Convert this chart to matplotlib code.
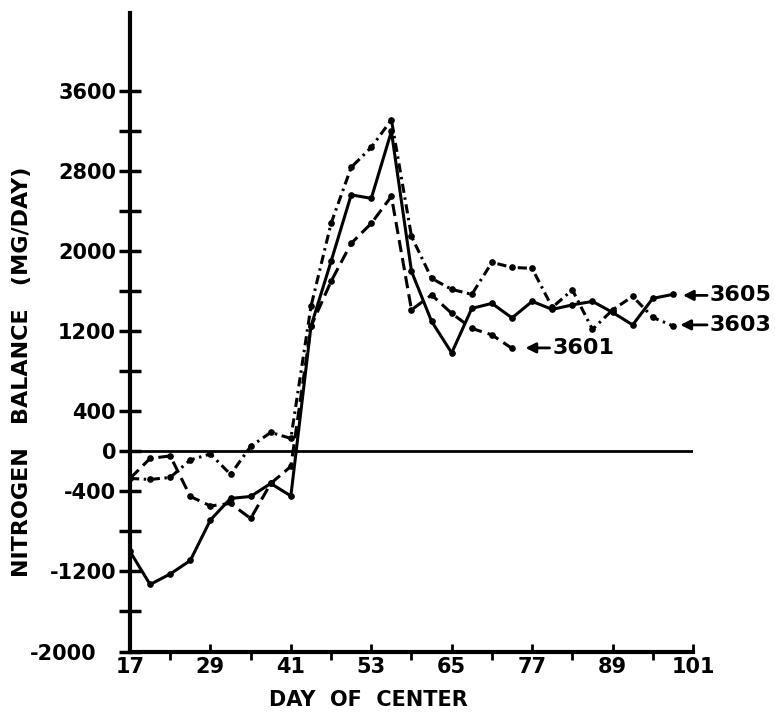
import matplotlib
matplotlib.use("Agg")
import matplotlib.pyplot as plt
import matplotlib.transforms as mtransforms

days = [17, 20, 23, 26, 29, 32, 35, 38, 41, 44, 47, 50, 53, 56, 59, 62, 65, 68,
        71, 74, 77, 80, 83, 86, 89, 92, 95, 98]

s3605 = [-1000, -1330, -1225, -1090, -685, -470, -450, -320, -445, 1250, 1900,
         2565, 2530, 3200, 1800, 1300, 985, 1430, 1480, 1335, 1500, 1420, 1465,
         1500, 1390, 1265, 1530, 1570]

s3603 = [-270, -280, -260, -85, -25, -230, 50, 190, 130, 1450, 2280, 2840, 3040,
         3315, 2150, 1730, 1620, 1570, 1890, 1840, 1830, 1440, 1615, 1220, 1415,
         1550, 1340, 1255]

days_3601 = days[:20]
s3601 = [-270, -70, -45, -450, -545, -520, -670, -320, -150, 1250, 1700, 2080,
         2280, 2550, 1415, 1565, 1380, 1230, 1165, 1030]

x_major = [17, 29, 41, 53, 65, 77, 89, 101]
x_minor = [23, 35, 47, 59, 71, 83, 95]
y_major = [-2000, -1200, -400, 0, 400, 1200, 2000, 2800, 3600]
y_minor = [-1600, -800, 800, 1600, 2400, 3200]

fig = plt.figure(figsize=(7.75, 7.13), dpi=100)
ax = fig.add_axes([130/775, 1-651.5/713, (693-130)/775, (651.5-13.3)/713])

ax.set_xlim(17, 101)
ax.set_ylim(-2000, 4380)

lw = 2.2
ax.plot(days, s3605, color='black', lw=lw, marker='o', ms=3.8, solid_joinstyle='round')
ax.plot(days, s3603, color='black', lw=lw, marker='o', ms=3.8,
        linestyle=(0, (3, 1.5, 0.8, 1.5)))
ax.plot(days_3601, s3601, color='black', lw=lw, marker='o', ms=3.8,
        linestyle=(0, (4, 2)))

ax.plot([17, 101], [0, 0], color='black', lw=2)

for s in ['top', 'right']:
    ax.spines[s].set_visible(False)
for s in ['left', 'bottom']:
    ax.spines[s].set_linewidth(3)

font = dict(family='DejaVu Sans', weight='bold')

ax.set_xticks(x_major)
ax.set_xticklabels([str(v) for v in x_major], fontsize=15, **font)
ax.set_xticks(x_minor, minor=True)
ax.set_yticks(y_major)
ax.set_yticklabels([str(v) for v in y_major], fontsize=15, **font)
ax.set_yticks(y_minor, minor=True)
ax.tick_params(axis='x', which='major', direction='in', length=6, width=2, pad=4)
ax.tick_params(axis='x', which='minor', direction='out', length=6, width=2)
ax.tick_params(axis='y', which='both', direction='inout', length=16, width=2.5, pad=2)

# the bottom label sits a little further from the axis in the original
lbl = ax.get_yticklabels()[0]
lbl.set_transform(lbl.get_transform() +
                  mtransforms.ScaledTranslation(-20/100, 0, fig.dpi_scale_trans))

fig.text(368/775, 1-700/713, 'DAY  OF  CENTER', ha='center', va='center', fontsize=15, **font)
fig.text(22/775, 1-372/713, 'NITROGEN   BALANCE   (MG/DAY)', ha='center', va='center',
         rotation=90, fontsize=16, **font)

arrow = dict(arrowstyle='-|>,head_length=0.6,head_width=0.3', color='black', lw=2,
             shrinkA=0, shrinkB=0)
ax.annotate('', xy=(99.5, 1560), xytext=(103.1, 1560), arrowprops=arrow,
            annotation_clip=False)
ax.text(103.5, 1560, '3605', ha='left', va='center', fontsize=16, clip_on=False, **font)
ax.annotate('', xy=(99.1, 1265), xytext=(103.1, 1265), arrowprops=arrow,
            annotation_clip=False)
ax.text(103.5, 1265, '3603', ha='left', va='center', fontsize=16, clip_on=False, **font)
ax.annotate('', xy=(76.0, 1035), xytext=(79.6, 1035), arrowprops=arrow,
            annotation_clip=False)
ax.text(80.0, 1035, '3601', ha='left', va='center', fontsize=16, clip_on=False, **font)

fig.savefig('out.png', dpi=100)
